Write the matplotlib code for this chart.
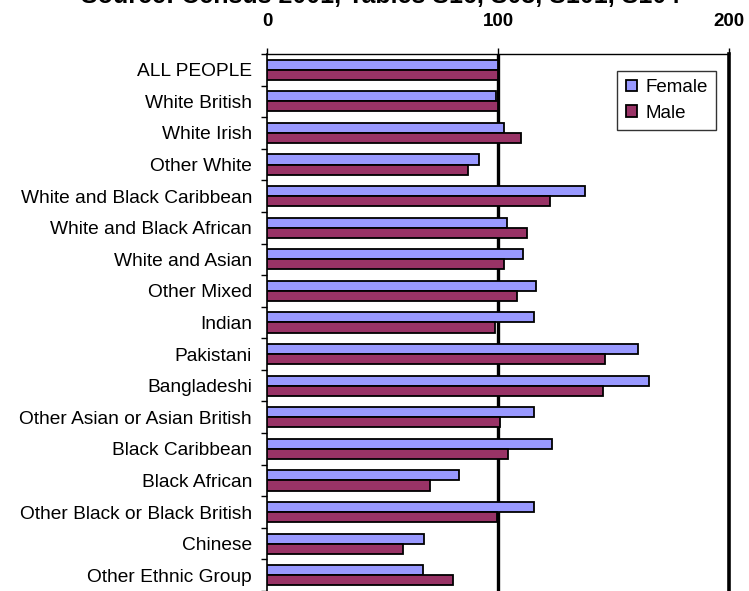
import matplotlib
matplotlib.use("Agg")
import matplotlib.pyplot as plt
import numpy as np

plt.rcParams['font.family'] = ['Liberation Sans', 'DejaVu Sans']

# Grupy etniczne i wskaźniki dla kobiet i mężczyzn (ALL PEOPLE = 100)
groups = [
    "ALL PEOPLE", "White British", "White Irish", "Other White",
    "White and Black Caribbean", "White and Black African", "White and Asian",
    "Other Mixed", "Indian", "Pakistani", "Bangladeshi",
    "Other Asian or Asian British", "Black Caribbean", "Black African",
    "Other Black or Black British", "Chinese", "Other Ethnic Group",
]
female = [100, 99, 102.7, 91.8, 137.7, 103.8, 110.7, 116.3, 115.6, 160.5,
          165.2, 115.6, 123.5, 83.2, 115.6, 68.1, 67.4]
male = [100, 100, 110, 87, 122.5, 112.4, 102.7, 108.4, 98.8, 146.3,
        145.6, 101, 104.5, 70.6, 99.6, 58.7, 80.7]

fig = plt.figure(figsize=(7.49, 5.91), dpi=100)
ax = fig.add_axes([267 / 749, 0, (729 - 267) / 749, 1 - 54 / 591])

y = np.arange(len(groups))
h = 0.32
ax.barh(y - h / 2, female, height=h, color="#9999FF", edgecolor="black",
        linewidth=1.3, label="Female", zorder=3)
ax.barh(y + h / 2, male, height=h, color="#993366", edgecolor="black",
        linewidth=1.3, label="Male", zorder=3)

ax.set_xlim(0, 200)
ax.set_ylim(len(groups) - 0.5, -0.5)

# Oś X na górze, pogrubione etykiety
ax.xaxis.tick_top()
ax.set_xticks([0, 100, 200])
ax.set_xticklabels(["0", "100", "200"], fontweight="bold", fontsize=13.5)
ax.tick_params(axis="x", direction="out", length=4.5, width=1, pad=13)

# Etykiety kategorii bez kresek, kreski na granicach grup
ax.set_yticks(y)
ax.set_yticklabels(groups, fontsize=13.8)
ax.tick_params(axis="y", which="major", length=0, pad=10.8)
ax.set_yticks(np.arange(len(groups) + 1) - 0.5, minor=True)
ax.tick_params(axis="y", which="minor", direction="out", length=4.5, width=1)

ax.axvline(100, color="black", linewidth=2.4, zorder=2)
ax.spines["right"].set_linewidth(2.6)
ax.spines["top"].set_linewidth(1)
ax.spines["left"].set_linewidth(1.2)
ax.spines["bottom"].set_visible(False)

leg = ax.legend(loc="upper right", bbox_to_anchor=(0.972, 0.969), fontsize=13.5,
                frameon=True, fancybox=False, edgecolor="black",
                handlelength=0.6, handleheight=0.6, handletextpad=0.45,
                borderpad=0.45, labelspacing=0.45, borderaxespad=0)
leg.get_frame().set_linewidth(1)

# Tytuł częściowo wychodzi poza górną krawędź
fig.text(381 / 749, 1 - 3 / 591, "Source: Census 2001, Tables S16, S03, S101, S104",
         ha="center", va="baseline", fontsize=18, fontweight="bold")

fig.savefig("out.png", dpi=100)
